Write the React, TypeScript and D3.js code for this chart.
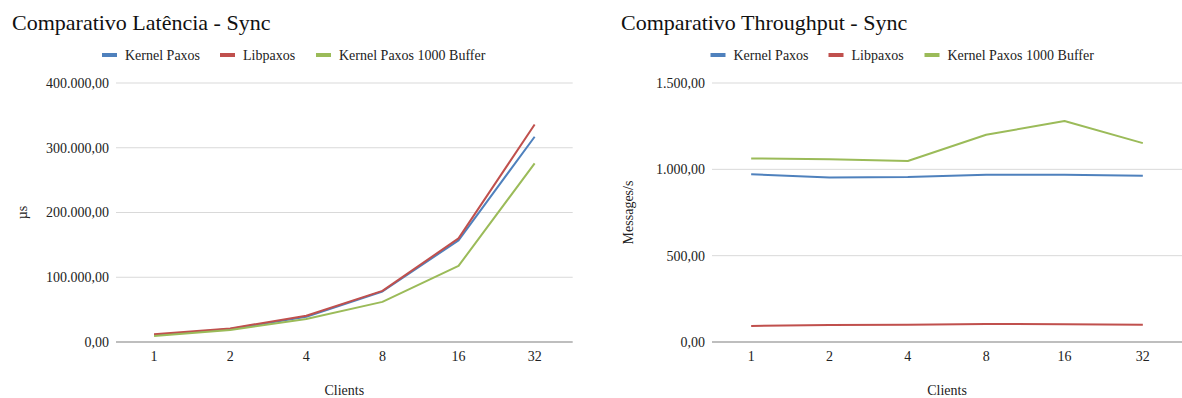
import React from "react";
import * as d3 from "d3";

// Client counts on the x axis
const clients = ["1", "2", "4", "8", "16", "32"];

// Latency in microseconds
const latencyKernelPaxos = [10500, 20000, 39000, 78000, 157000, 317000];
const latencyLibpaxos = [11900, 21000, 40600, 79000, 160000, 336000];
const latencyKernelPaxos1000 = [9300, 18500, 35500, 62000, 117500, 276000];

// Throughput in messages per second
const throughputKernelPaxos = [971, 953, 955, 969, 968, 963];
const throughputLibpaxos = [93, 98, 100, 104, 103, 100];
const throughputKernelPaxos1000 = [1063, 1058, 1048, 1200, 1280, 1152];

const latencyTicks = [0, 100000, 200000, 300000, 400000];
const throughputTicks = [0, 500, 1000, 1500];

const seriesNames = ["Kernel Paxos", "Libpaxos", "Kernel Paxos 1000 Buffer"];
const seriesColors = ["#4f81bd", "#c0504d", "#9bbb59"];

const ptBR = d3.formatLocale({
  decimal: ",",
  thousands: ".",
  grouping: [3],
  currency: ["R$", ""],
});
const fmt = ptBR.format(",.2f");

const FONT = "'Liberation Serif', 'Times New Roman', serif";

type ChartProps = {
  ox: number;
  title: string;
  yLabel: string;
  yLabelX: number;
  plotLeft: number;
  plotRight: number;
  ticks: number[];
  series: number[][];
  legendCenter: number;
};

function Chart({ ox, title, yLabel, yLabelX, plotLeft, plotRight, ticks, series, legendCenter }: ChartProps) {
  const top = 83;
  const bottom = 342;
  const x = d3.scaleBand<string>().domain(clients).range([plotLeft, plotRight]).padding(0);
  const y = d3.scaleLinear().domain([0, ticks[ticks.length - 1]]).range([bottom, top]);
  const cx = (c: string) => (x(c) as number) + x.bandwidth() / 2;
  const line = d3
    .line<number>()
    .x((_, i) => cx(clients[i]))
    .y((v) => y(v));

  // legend layout: swatch + label, groups separated by a gap
  const textW = [75, 53, 146];
  const sw = 15;
  const gapSw = 8;
  const gapGroup = 20;
  const widths = textW.map((t) => sw + gapSw + t);
  const total = widths.reduce((a, b) => a + b, 0) + gapGroup * (widths.length - 1);
  let lx = legendCenter - total / 2;
  const legendItems = seriesNames.map((name, i) => {
    const item = { name, color: seriesColors[i], x: lx };
    lx += widths[i] + gapGroup;
    return item;
  });

  return (
    <g transform={`translate(${ox},0)`} fontFamily={FONT}>
      <text x={12} y={30} fontSize={22} fill="#111">
        {title}
      </text>
      {legendItems.map((it) => (
        <g key={it.name}>
          <rect x={it.x} y={53} width={sw} height={4} fill={it.color} />
          <text x={it.x + sw + gapSw} y={60} fontSize={14} fill="#222">
            {it.name}
          </text>
        </g>
      ))}
      {ticks.map((t) => (
        <g key={t}>
          {t !== 0 && (
            <line x1={plotLeft} x2={plotRight} y1={y(t)} y2={y(t)} stroke="#d9d9d9" strokeWidth={1} />
          )}
          <text x={plotLeft - 7} y={y(t)} dy="0.35em" textAnchor="end" fontSize={14} fill="#222">
            {fmt(t)}
          </text>
        </g>
      ))}
      {series.map((s, i) => (
        <path
          key={i}
          d={line(s) as string}
          fill="none"
          stroke={seriesColors[i]}
          strokeWidth={2}
          strokeLinejoin="round"
        />
      ))}
      <line x1={plotLeft} x2={plotRight} y1={bottom} y2={bottom} stroke="#7f7f7f" strokeWidth={1.2} />
      {clients.map((c) => (
        <text key={c} x={cx(c)} y={356} dy="0.35em" textAnchor="middle" fontSize={14} fill="#222">
          {c}
        </text>
      ))}
      <text x={(plotLeft + plotRight) / 2} y={390} dy="0.35em" textAnchor="middle" fontSize={14} fill="#222">
        Clients
      </text>
      <text
        transform={`translate(${yLabelX},${(top + bottom) / 2}) rotate(-90)`}
        textAnchor="middle"
        dy="0.35em"
        fontSize={14}
        fill="#222"
      >
        {yLabel}
      </text>
    </g>
  );
}

export default function App() {
  return (
    <svg
      width={1182}
      height={398}
      style={{ position: "absolute", left: 0, top: 0, background: "#fff" }}
    >
      <rect width={1182} height={398} fill="#fff" />
      <Chart
        ox={0}
        title="Comparativo Latência - Sync"
        yLabel="µs"
        yLabelX={22}
        plotLeft={116}
        plotRight={572.7}
        ticks={latencyTicks}
        series={[latencyKernelPaxos, latencyLibpaxos, latencyKernelPaxos1000]}
        legendCenter={293.5}
      />
      <Chart
        ox={609}
        title="Comparativo Throughput - Sync"
        yLabel="Messages/s"
        yLabelX={19}
        plotLeft={103}
        plotRight={573}
        ticks={throughputTicks}
        series={[throughputKernelPaxos, throughputLibpaxos, throughputKernelPaxos1000]}
        legendCenter={293}
      />
    </svg>
  );
}
